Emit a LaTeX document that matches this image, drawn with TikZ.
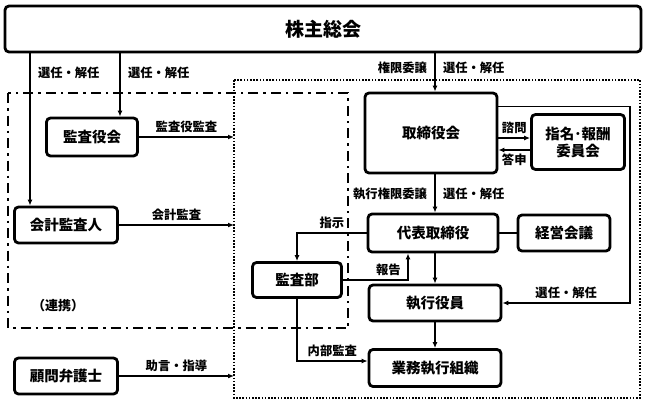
\documentclass[tikz,border=0pt]{standalone}
\usepackage{fontspec}
\setmainfont{Noto Sans CJK JP}
\usetikzlibrary{positioning, calc, arrows.meta}
\tikzstyle{Arrow} = [
%Arrow for the connectors:
line width=1.4pt,
-{Latex[length=6pt, width=5pt]}
]
\tikzstyle{Line} = [line width=1.4pt]

\begin{document}
\begin{tikzpicture}[x=1pt, y=-1pt,
			font=\bfseries\fontsize{12.3}{14}\selectfont,
			box/.style = {rectangle, rounded corners=4pt, line width=2.8pt, draw, text centered, align=center, inner sep=0pt, font=\bfseries\fontsize{14.5}{17}\selectfont},
			top/.style = {box, minimum width=636pt, minimum height=46pt, font=\bfseries\fontsize{19}{21}\selectfont},
			lbl/.style = {inner sep=2pt},
			dotbox/.style = {line width=1.8pt, dash pattern=on 1.6pt off 1.6pt},
			dashdotbox/.style = {line width=2pt, dash pattern=on 10pt off 5pt on 2.5pt off 5pt},
		]
		\useasboundingbox (0,0) rectangle (648,407);

		% frames
		\draw[dotbox] (234,80) rectangle (640,398);
		\draw[dashdotbox] (8,93) rectangle (348,328);

		\node[top](SH) at (323,29){株主総会};
		\node[box, minimum width=91pt, minimum height=38pt](AB) at (92,137){監査役会};
		\node[box, minimum width=103pt, minimum height=36pt](AA) at (66,225){会計監査人};
		\node[box, minimum width=103pt, minimum height=36pt](LA) at (66,376){顧問弁護士};
		\node[box, minimum width=89pt, minimum height=35pt](AD) at (297,280){監査部};
		\node[box, minimum width=132pt, minimum height=80pt](BD) at (431,133){取締役会};
		\node[box, minimum width=93pt, minimum height=55pt](NC) at (578,142){指名･報酬\\委員会};
		\node[box, minimum width=130pt, minimum height=38pt](CEO) at (433,233){代表取締役};
		\node[box, minimum width=92pt, minimum height=36pt](MC) at (564,233){経営会議};
		\node[box, minimum width=132pt, minimum height=36pt](EO) at (435,303){執行役員};
		\node[box, minimum width=132pt, minimum height=37pt](BO) at (435,368){業務執行組織};
		\node[lbl, font=\bfseries\fontsize{13}{15}\selectfont](RT) at (58,306){（連携）};

		\coordinate(L1) at (30,0);
		\coordinate(L2) at (120,0);
		\coordinate(C) at (435,0);
		\coordinate(R) at (630,0);

		\draw[Arrow](SH.south -| L1)--node[pos=0.13, right, xshift=4pt] {選任・解任}(AA.north -| L1);
		\draw[Arrow](SH.south -| L2)--node[pos=0.3, right, xshift=4pt] {選任・解任}(AB.north -| L2);
		\draw[Arrow](SH.south -| C)--node[pos=0.37, left, xshift=-4pt] {権限委譲}node[pos=0.37, right, xshift=4pt] {選任・解任}(BD.north -| C);

		\draw[Arrow](AB.east)--node[midway, above] {監査役監査}(AB.east -| 234,0);
		\draw[Arrow](AA.east)--node[midway, above] {会計監査}(AA.east -| 234,0);
		\draw[Arrow](LA.east)--node[midway, above] {助言・指導}(LA.east -| 234,0);

		\draw[Arrow]([yshift=-5pt]BD.east)--node[midway, above] {諮問}([yshift=-5pt]BD.east -| NC.west);
		\draw[Arrow]([yshift=-17pt]BD.east -| NC.west)--node[midway, below] {答申}([yshift=-17pt]BD.east);
		\draw[Arrow]([yshift=-15pt]BD.north east)--([yshift=-15pt]BD.north east -| R) |- node[pos=0.75, above] {選任・解任}(EO.east);

		\draw[Arrow](BD.south -| C)--node[midway, left, xshift=-4pt] {執行権限委譲}node[midway, right, xshift=4pt] {選任・解任}(CEO.north -| C);
		\draw[Line](CEO)--(MC);
		\draw[Arrow](CEO.west) -| node[pos=0.25, above] {指示}(AD.north);
		\draw[Arrow](AD.east) -| node[pos=0.35, above] {報告}([xshift=-25pt]CEO.south);
		\draw[Arrow](CEO.south -| C)--(EO.north -| C);
		\draw[Arrow](EO.south -| C)--(BO.north -| C);
		\draw[Arrow](AD.south) |- node[pos=0.75, above] {内部監査}([yshift=7pt]BO.west);

	\end{tikzpicture}
\end{document}
